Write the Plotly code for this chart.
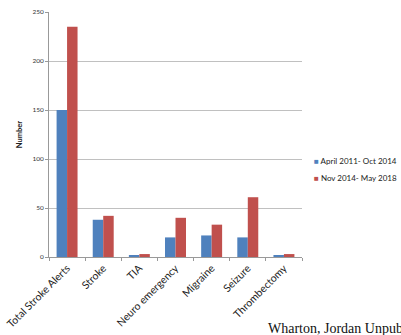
import plotly.graph_objects as go

categories = ["Total Stroke Alerts", "Stroke", "TIA", "Neuro emergency", "Migraine", "Seizure", "Thrombectomy"]
series1_name = "April 2011- Oct 2014"
series1 = [150, 38, 2, 20, 22, 20, 2]
series2_name = "Nov 2014- May 2018"
series2 = [235, 42, 3, 40, 33, 61, 3]
y_ticks = [0, 50, 100, 150, 200, 250]
color1 = "#4F81BD"
color2 = "#C0504D"

font_main = "Lato, 'Open Sans', sans-serif"

fig = go.Figure()
fig.add_trace(go.Bar(x=categories, y=series1, name=series1_name,
                     marker=dict(color=color1, line=dict(width=0))))
fig.add_trace(go.Bar(x=categories, y=series2, name=series2_name,
                     marker=dict(color=color2, line=dict(width=0))))

L, R, T, B = 49, 99, 12, 78
PW, PH = 401 - L - R, 335 - T - B

def px(xp):
    return (xp - L) / PW

def py(yp):
    return (335 - B - yp) / PH

legend_anns = []
for i, (nm, col) in enumerate([(series1_name, color1), (series2_name, color2)]):
    legend_anns.append(dict(
        text=f"<span style='color:{col}'>■</span> {nm}", xref="paper", yref="paper",
        x=px(312), y=py(161 + 17 * i), xanchor="left", yanchor="middle", showarrow=False,
        font=dict(size=8, color="#222222", family=font_main)))

fig.update_layout(
    width=401, height=335,
    margin=dict(l=L, r=R, t=T, b=B, autoexpand=False),
    paper_bgcolor="white", plot_bgcolor="white",
    barmode="group", bargap=0.42, bargroupgap=0,
    font=dict(family=font_main, size=7, color="#333333"),
    showlegend=False,
    xaxis=dict(tickangle=-45, tickfont=dict(size=10.5, color="#222222", family=font_main),
               showline=True, linecolor="#999999", linewidth=1,
               ticks="outside", tickson="boundaries", ticklen=3, tickcolor="#999999",
               showgrid=False),
    yaxis=dict(range=[0, 250], tickvals=y_ticks, showgrid=True, gridcolor="#c0c0c0",
               gridwidth=1, showline=True, linecolor="#999999", linewidth=1,
               ticks="outside", ticklen=3, tickcolor="#999999",
               tickfont=dict(size=6.5, color="#333333"), zeroline=False,
               title=dict(text="<b>Number</b>", font=dict(size=7.5, color="#222222"), standoff=8)),
    annotations=legend_anns + [dict(text="Wharton, Jordan Unpublished", xref="paper", yref="paper",
                      x=px(266), y=py(328), xanchor="left", yanchor="middle",
                      showarrow=False,
                      font=dict(family="'Liberation Serif', 'Times New Roman', serif", size=14, color="#111111"))],
)

fig.write_html("out.html")
